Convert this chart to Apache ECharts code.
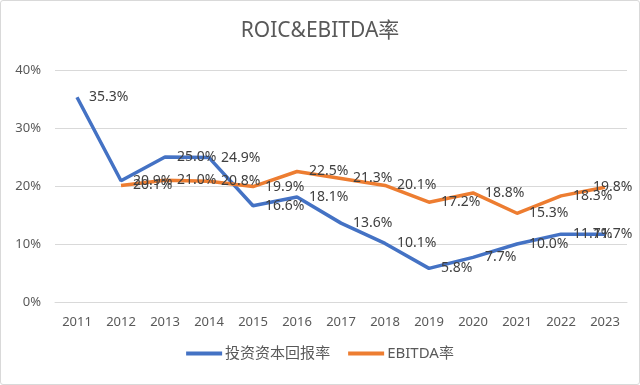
<!DOCTYPE html>
<html><head><meta charset="utf-8">
<script src="https://cdn.jsdelivr.net/npm/echarts@6/dist/echarts.min.js"></script>
<style>
html,body{margin:0;padding:0;background:#fff;}
#c{position:absolute;left:0;top:0;width:638px;height:383px;border:1px solid #d9d9d9;border-radius:3px;}
</style></head>
<body><div id="c"></div>
<script>
const years = ['2011','2012','2013','2014','2015','2016','2017','2018','2019','2020','2021','2022','2023'];
const roic = [35.3, 20.9, 25.0, 24.9, 16.6, 18.1, 13.6, 10.1, 5.8, 7.7, 10.0, 11.7, 11.7];
const ebitda = [null, 20.1, 21.0, 20.8, 19.9, 22.5, 21.3, 20.1, 17.2, 18.8, 15.3, 18.3, 19.8];
const seriesNames = ['投资资本回报率', 'EBITDA率'];
const titleText = 'ROIC&EBITDA率';

const FONT = '"Noto Sans", "Noto Sans CJK SC", sans-serif';
const chart = echarts.init(document.getElementById('c'), null, {renderer:'canvas'});
const lbl = {show:true, position:'right', distance:12, color:'#404040', fontSize:14, fontFamily:FONT,
  formatter: p => p.value == null ? '' : p.value.toFixed(1) + '%'};
// last point's label is pushed back inside the chart area, as Excel does
const withEdge = arr => arr.map((v, i) => i === arr.length - 1 ? {value:v, label:{offset:[-24,0]}} : v);
chart.setOption({
  animation:false,
  title:{text:titleText, left:'center', top:15, textStyle:{fontSize:21, fontWeight:'normal', color:'#595959', fontFamily:FONT}},
  grid:{left:54, right:12, top:69, bottom:82},
  legend:{bottom:18, left:'center', itemWidth:36, itemHeight:4, itemGap:18, icon:'rect',
    textStyle:{fontSize:15, color:'#595959', fontFamily:FONT, padding:[0,0,0,-2]}, data:seriesNames},
  xAxis:{type:'category', data:years, boundaryGap:true,
    axisLine:{show:true, lineStyle:{color:'#d9d9d9'}}, axisTick:{show:false},
    axisLabel:{color:'#595959', fontSize:13, fontFamily:FONT, margin:14}},
  yAxis:{type:'value', min:0, max:40, interval:10,
    axisLine:{show:false}, axisTick:{show:false},
    splitLine:{lineStyle:{color:'#d9d9d9'}},
    axisLabel:{formatter:'{value}%', color:'#595959', fontSize:13, fontFamily:FONT, margin:14}},
  series:[
    {name:seriesNames[0], type:'line', data:withEdge(roic), symbol:'circle', symbolSize:0, showSymbol:true,
     lineStyle:{width:3.5, color:'#4472C4'}, itemStyle:{color:'#4472C4'}, label:lbl},
    {name:seriesNames[1], type:'line', data:withEdge(ebitda), symbol:'circle', symbolSize:0, showSymbol:true,
     lineStyle:{width:3.5, color:'#ED7D31'}, itemStyle:{color:'#ED7D31'}, label:lbl}
  ]
});
</script></body></html>
